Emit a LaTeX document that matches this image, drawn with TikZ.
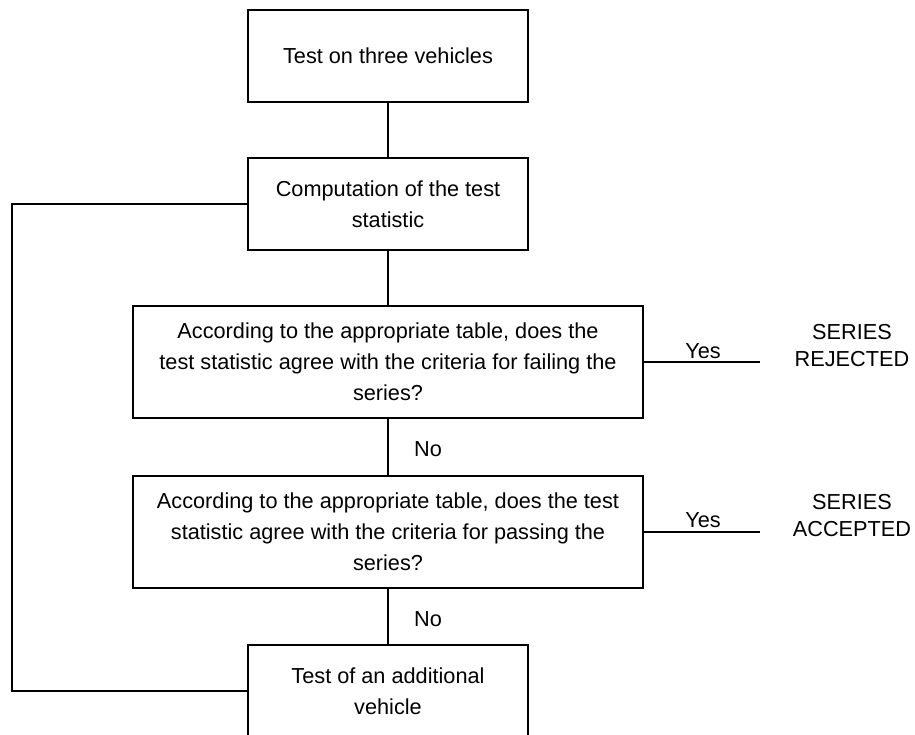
\documentclass[tikz,border=0pt]{standalone}
\usepackage{fontspec}
\setmainfont{Liberation Sans}
\begin{document}
\begin{tikzpicture}[x=1pt,y=-1pt,
  box/.style={draw=black,line width=2.2pt,fill=white,align=center,inner sep=0pt,
    font=\fontsize{21.7}{31}\selectfont},
  smallbox/.style={box,minimum width=280pt,minimum height=92pt},
  widebox/.style={box,minimum width=510pt,minimum height=112pt},
  lbl/.style={inner sep=0pt,font=\fontsize{21.7}{27}\selectfont,align=center},
  conn/.style={draw=black,line width=2.2pt}]
\useasboundingbox (0,0) rectangle (915,734);
\clip (0,0) rectangle (915,734);
\fill[white] (0,0) rectangle (915,734);
\node[smallbox] (b1) at (388,56) {Test on three vehicles};
\node[smallbox] (b2) at (388,204) {Computation of the test\\statistic};
\node[widebox] (b3) at (388,362) {According to the appropriate table, does the\\test statistic agree with the criteria for failing the\\series?};
\node[widebox] (b4) at (388,532) {According to the appropriate table, does the test\\statistic agree with the criteria for passing the\\series?};
\node[smallbox] (b5) at (388,691) {Test of an additional\\vehicle};
\coordinate (y1) at (760,362);
\coordinate (y2) at (760,532);
\coordinate (l1) at (12,691);
\coordinate (l2) at (12,204);
\draw[conn] (b1) -- (b2);
\draw[conn] (b2) -- (b3);
\draw[conn] (b3) -- (b4);
\draw[conn] (b4) -- (b5);
\draw[conn] (b3.east) -- (y1);
\draw[conn] (b4.east) -- (y2);
\draw[conn,line join=miter] (b5.west) -- (l1) -- (l2) -- (b2.west);
\node[lbl] (yes1) at (703,351) {Yes};
\node[lbl] (yes2) at (703,520) {Yes};
\node[lbl] (no1) at (428,449) {No};
\node[lbl] (no2) at (428,619) {No};
\node[lbl] (rej) at (852,346) {SERIES\\REJECTED};
\node[lbl] (acc) at (852,516) {SERIES\\ACCEPTED};
\end{tikzpicture}
\end{document}
